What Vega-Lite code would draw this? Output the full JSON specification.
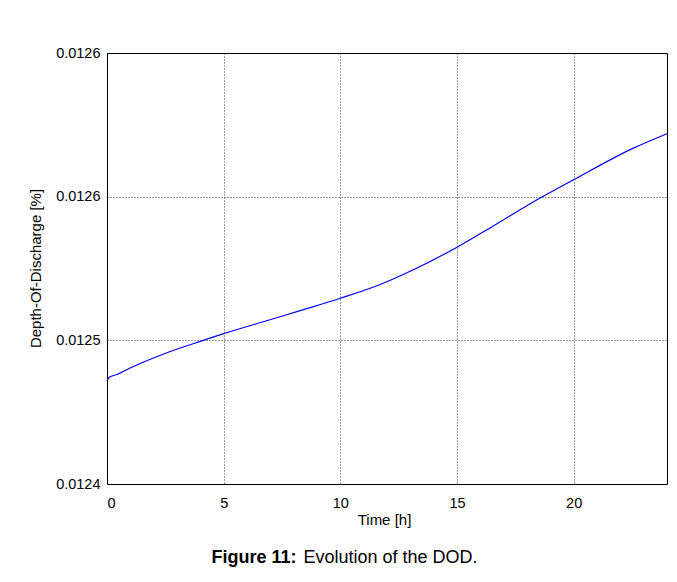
{
  "$schema": "https://vega.github.io/schema/vega-lite/v6.json",
  "width": 560,
  "height": 431,
  "autosize": {"type": "none"},
  "padding": {"left": 107, "top": 53, "right": 10, "bottom": 98},
  "background": "white",
  "config": {
    "font": "Liberation Sans",
    "view": {"stroke": "#000000", "strokeWidth": 1},
    "axis": {"labelFont": "Liberation Sans", "titleFont": "Liberation Sans", "labelColor": "#000", "titleColor": "#000"}
  },
  "data": {
    "values": [
      {"t": 0, "dod": 0.01243587},
      {"t": 0.1, "dod": 0.01243715},
      {"t": 0.4, "dod": 0.01243802},
      {"t": 1.11, "dod": 0.0124408},
      {"t": 2.54, "dod": 0.0124456},
      {"t": 4.13, "dod": 0.01245},
      {"t": 5, "dod": 0.01245233},
      {"t": 6.84, "dod": 0.0124568},
      {"t": 8.56, "dod": 0.01246101},
      {"t": 10, "dod": 0.01246465},
      {"t": 11.71, "dod": 0.01246944},
      {"t": 13.13, "dod": 0.01247455},
      {"t": 15, "dod": 0.0124824},
      {"t": 16.7, "dod": 0.01249052},
      {"t": 18.56, "dod": 0.0124995},
      {"t": 20, "dod": 0.0125059},
      {"t": 22.54, "dod": 0.0125168},
      {"t": 24, "dod": 0.0125219}
    ]
  },
  "resolve": {"scale": {"x": "independent"}, "axis": {"x": "independent"}},
  "layer": [
    {
      "mark": {"type": "line", "color": "#0000ff", "strokeWidth": 1.2, "interpolate": "monotone"},
      "encoding": {
        "x": {
          "field": "t", "type": "quantitative",
          "scale": {"domain": [0, 24], "nice": false, "zero": false},
          "axis": {
            "orient": "bottom",
            "values": [0, 5, 10, 15, 20],
            "title": "Time [h]",
            "titleFontSize": 15, "titleFontWeight": "normal",
            "titleX": 277, "titleY": 40, "titleAlign": "center", "titleBaseline": "alphabetic",
            "labelFontSize": 14.5, "labelPadding": 12,
            "ticks": false, "domain": false,
            "grid": true, "gridColor": "#000", "gridDash": [1, 2], "gridOpacity": 0.8, "gridWidth": 1
          }
        },
        "y": {
          "field": "dod", "type": "quantitative",
          "scale": {"domain": [0.0124, 0.01255], "nice": false, "zero": false},
          "axis": {
            "values": [0.0124, 0.01245, 0.0125, 0.01255],
            "labelExpr": "datum.value < 0.012442 ? '0.0124' : (datum.value < 0.012475 ? '0.0125' : '0.0126')",
            "title": "Depth-Of-Discharge [%]",
            "titleFontSize": 15, "titleFontWeight": "normal",
            "titleX": -72, "titleY": 215, "titleAngle": 270, "titleAlign": "center", "titleBaseline": "middle",
            "labelFontSize": 14.5, "labelPadding": 7,
            "ticks": false, "domain": false,
            "grid": true, "gridColor": "#000", "gridDash": [1, 2], "gridOpacity": 0.8, "gridWidth": 1
          }
        }
      }
    },
    {
      "mark": {"type": "line", "strokeOpacity": 0},
      "encoding": {
        "x": {
          "field": "t", "type": "quantitative",
          "scale": {"domain": [0, 24], "nice": false, "zero": false},
          "axis": {
            "orient": "bottom", "labels": false, "ticks": false, "domain": false, "grid": false,
            "title": "Figure 11:",
            "titleFontSize": 18, "titleFontWeight": "bold",
            "titleX": 104, "titleY": 78, "titleAlign": "left", "titleBaseline": "alphabetic"
          }
        },
        "y": {"field": "dod", "type": "quantitative"}
      }
    },
    {
      "mark": {"type": "line", "strokeOpacity": 0},
      "encoding": {
        "x": {
          "field": "t", "type": "quantitative",
          "scale": {"domain": [0, 24], "nice": false, "zero": false},
          "axis": {
            "orient": "bottom", "labels": false, "ticks": false, "domain": false, "grid": false,
            "title": "Evolution of the DOD.",
            "titleFontSize": 18, "titleFontWeight": "normal",
            "titleX": 196, "titleY": 78, "titleAlign": "left", "titleBaseline": "alphabetic"
          }
        },
        "y": {"field": "dod", "type": "quantitative"}
      }
    }
  ]
}
